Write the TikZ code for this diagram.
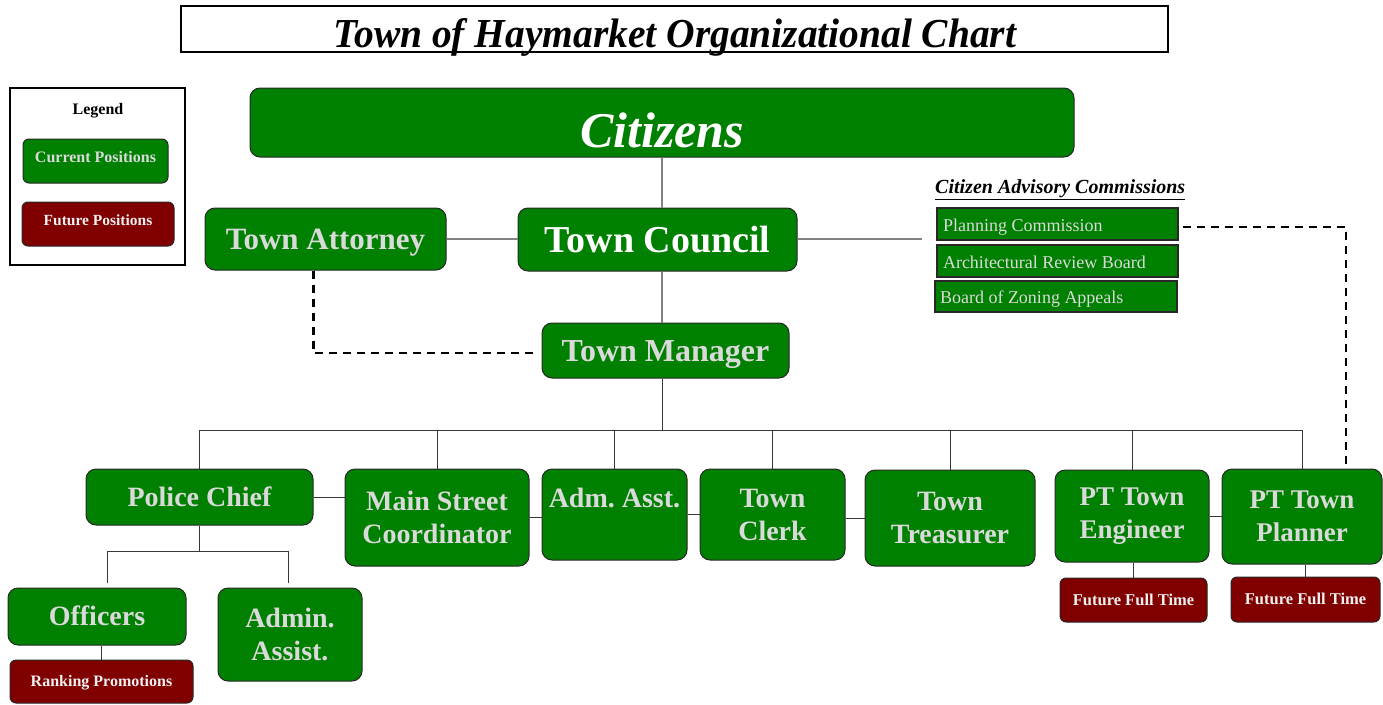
\documentclass[tikz,border=0pt]{standalone}
\usepackage{fontspec}
\usepackage{graphicx}
\setmainfont{Liberation Serif}
\usetikzlibrary{calc}
\frenchspacing

\definecolor{posgreen}{RGB}{0,128,0}
\definecolor{futred}{RGB}{128,0,0}
\definecolor{boxtext}{RGB}{218,218,218}
\definecolor{futtext}{RGB}{240,240,240}
\definecolor{boxline}{RGB}{40,40,40}
\definecolor{toplinec}{RGB}{130,130,130}
\definecolor{linec}{RGB}{55,55,55}

\tikzset{
  box/.style={draw=boxline, line width=1pt, fill=posgreen, text=boxtext,
    inner sep=0pt, rounded corners=10pt},
  smallbox/.style={box, rounded corners=6pt},
  futbox/.style={smallbox, fill=futred, text=futtext},
  commbox/.style={draw=boxline, line width=1.3pt, fill=posgreen, text=boxtext,
    inner sep=0pt, font=\fontsize{18}{18}\selectfont, text height=14pt, text depth=0pt},
  one/.style={font=\fontsize{#1}{#1}\selectfont\bfseries,
    text height=#1*0.66pt, text depth=0pt},
  two/.style={align=center, font=\fontsize{#1}{33}\selectfont\bfseries},
  toplink/.style={draw=toplinec, line width=1.8pt},
  link/.style={draw=linec, line width=1pt},
  dashlink/.style={draw=black, line width=2.2pt, dash pattern=on 8pt off 6pt}
}

\begin{document}
\begin{tikzpicture}[x=1pt,y=-1pt]
\useasboundingbox (0,0) rectangle (1383,704);

% heading
\node[draw, line width=2.5pt, minimum width=987pt, minimum height=46pt, inner sep=0pt]
  (titlebox) at (674.5,29) {};
\node[anchor=base, inner sep=0pt] (title) at (675,47)
  {\resizebox{682pt}{29pt}{\bfseries\itshape Town of Haymarket Organizational Chart}};

% legend
\node[draw, line width=2.5pt, minimum width=175pt, minimum height=177pt, inner sep=0pt]
  (legendbox) at (97.5,176.5) {};
\node[anchor=base, inner sep=0pt, font=\fontsize{16}{16}\selectfont\bfseries]
  (legendtitle) at (98,114) {Legend};
\node[smallbox, one=16, minimum width=145pt, minimum height=44pt, text height=10pt, text depth=8pt]
  (cur) at (95.5,161) {Current Positions};
\node[futbox, one=15.5, minimum width=152pt, minimum height=44pt, text height=10pt, text depth=7pt]
  (fut) at (98,224) {Future Positions};

% top of the chart
\node[box, minimum width=824pt, minimum height=69pt, text=white,
  font=\fontsize{50}{50}\selectfont\bfseries\itshape, text height=49pt, text depth=0pt]
  (citizens) at (662,122.5) {Citizens};
\node[box, one=31, minimum width=241pt, minimum height=62pt] (attorney) at (325.5,239) {Town Attorney};
\node[box, one=38, text=white, minimum width=279pt, minimum height=63pt] (council) at (657.5,239.5) {Town Council};
\node[box, one=32, minimum width=247pt, minimum height=55pt] (manager) at (665.5,350.5) {Town Manager};

% advisory commissions
\node[anchor=base west, inner sep=0pt, font=\fontsize{20}{20}\selectfont\bfseries\itshape]
  (advhead) at (935,193) {\underline{Citizen Advisory Commissions}};
\node[commbox, minimum width=241pt, minimum height=32pt] (planning) at (1057.5,224)
  {\makebox[229pt][l]{Planning Commission}};
\node[commbox, minimum width=241pt, minimum height=32pt] (arb) at (1057.5,261)
  {\makebox[229pt][l]{Architectural Review Board}};
\node[commbox, minimum width=242pt, minimum height=31pt] (bza) at (1056,296.5)
  {\makebox[232pt][l]{Board of Zoning Appeals}};

% staff row
\node[box, one=28, minimum width=227pt, minimum height=56pt] (police) at (199.5,497) {Police Chief};
\node[box, two=28, minimum width=184pt, minimum height=97pt] (main) at (437,517.5) {Main Street\\Coordinator};
\node[box, two=28, minimum width=145pt, minimum height=91pt] (adm) at (614.5,514.5) {Adm. Asst.\\\mbox{}};
\node[box, two=28, minimum width=145pt, minimum height=91pt] (clerk) at (772.5,514.5) {Town\\Clerk};
\node[box, two=28, minimum width=170pt, minimum height=96pt] (treasurer) at (950,518) {Town\\Treasurer};
\node[box, two=27, minimum width=154pt, minimum height=92pt] (engineer) at (1132,516) {PT Town\\Engineer};
\node[box, two=27, minimum width=160pt, minimum height=95pt] (planner) at (1302,516.5) {PT Town\\Planner};

% police department
\node[box, one=28, minimum width=178pt, minimum height=57pt] (officers) at (97,616.5) {Officers};
\node[box, two=28, minimum width=144pt, minimum height=93pt] (adminassist) at (290,634.5) {Admin.\\Assist.};
\node[futbox, one=16, minimum width=183pt, minimum height=43pt] (ranking) at (101.5,681.5) {Ranking Promotions};

% future full-time positions
\node[futbox, one=16.5, minimum width=147pt, minimum height=44pt] (fut1) at (1133.5,600) {Future Full Time};
\node[futbox, one=16.5, minimum width=149pt, minimum height=45pt] (fut2) at (1305.5,599.5) {Future Full Time};

% upper connectors
\draw[toplink] (citizens.south) -- (citizens.south |- council.north);
\draw[toplink] (citizens.south |- council.south) -- (citizens.south |- manager.north);
\draw[toplink] (attorney.east) -- (attorney.east -| council.west);
\coordinate (advlink) at (922,239);
\draw[toplink] (council.east |- advlink) -- (advlink);

% staff bus
\coordinate (bus) at (662,430);
\draw[link] (citizens.south |- manager.south) -- (bus);
\draw[link] (police.north |- bus) -- (planner.north |- bus);
\foreach \n in {police,main,adm,clerk,treasurer,engineer,planner}
  \draw[link] (\n.north |- bus) -- (\n.north);

% side links between staff
\draw[link] (police.east) -- (police.east -| main.west);
\draw[link] (main.east) -- (main.east -| adm.west);
\draw[link] (adm.east) -- (adm.east -| clerk.west);
\draw[link] (clerk.east |- treasurer.west) -- (treasurer.west);
\draw[link] (engineer.east) -- (engineer.east -| planner.west);

% police branch
\coordinate (pbus) at (199.5,551);
\coordinate (offdrop) at ($(officers.north)+(10,0)$);
\coordinate (assdrop) at ($(adminassist.north)+(-2,0)$);
\draw[link] (police.south) -- (pbus);
\draw[link] (offdrop |- pbus) -- (assdrop |- pbus);
\draw[link, shorten >=5pt] (offdrop |- pbus) -- (offdrop);
\draw[link, shorten >=5pt] (assdrop |- pbus) -- (assdrop);
\draw[link] (ranking.north |- officers.south) -- (ranking.north);

% future positions
\draw[link] (fut1.north |- engineer.south) -- (fut1.north);
\draw[link] (fut2.north |- planner.south) -- (fut2.north);

% dashed advisory lines
\coordinate (attdash) at ($(attorney.south)+(-12,0)$);
\draw[dashlink] (attdash) |- ($(manager.west)+(-4,2.5)$);
\draw[dashlink] ($(planning.east)+(4,3)$) -| ($(planner.north)+(44,-4)$);
\end{tikzpicture}
\end{document}
